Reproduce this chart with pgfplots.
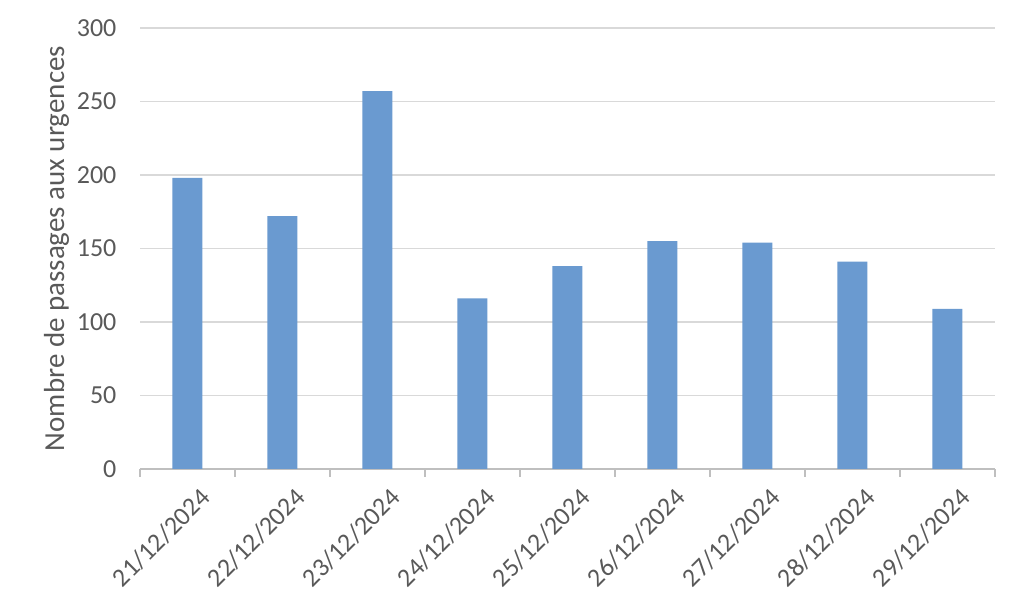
\documentclass[border=0pt]{standalone}
\usepackage{fontspec}
\setmainfont{Carlito}
\usepackage{pgfplots}
\pgfplotsset{compat=1.18}
\definecolor{barblue}{HTML}{6A9AD0}
\definecolor{txtgray}{HTML}{595959}
\definecolor{gridgray}{HTML}{D9D9D9}
\definecolor{axgray}{HTML}{BFBFBF}
\begin{document}
\begin{tikzpicture}
\path[use as bounding box] (0,0) rectangle (512pt,304.5pt);
\begin{axis}[
  at={(70pt,70pt)}, anchor=south west,
  scale only axis, width=427.5pt, height=220.5pt,
  xmin=-0.5, xmax=8.5, ymin=0, ymax=300,
  ytick={0,50,...,300},
  xtick={0,...,8},
  xticklabels={21/12/2024,22/12/2024,23/12/2024,24/12/2024,25/12/2024,26/12/2024,27/12/2024,28/12/2024,29/12/2024},
  minor xtick={-0.5,0.5,...,8.5},
  major x tick style={draw=none},
  minor x tick style={draw=axgray, line width=0.6pt},
  minor tick length=4pt,
  tick align=outside,
  axis x line*=bottom, axis y line*=left,
  y axis line style={draw=none},
  ytick style={draw=none},
  x axis line style={draw=axgray, line width=0.6pt, -},
  ymajorgrids, grid style={gridgray, line width=0.6pt},
  /pgf/number format/assume math mode=true,
  ticklabel style={font=\fontsize{13}{15}\selectfont, text=txtgray},
  x tick label style={rotate=45, anchor=north east, inner sep=1pt, yshift=-6pt, xshift=2pt},
  y tick label style={xshift=-4pt},
  ylabel={Nombre de passages aux urgences},
  ylabel style={font=\fontsize{14.5}{16}\selectfont, text=txtgray},
  ylabel shift=-3pt,
]
\addplot[ybar, bar width=15pt, fill=barblue, draw=none] coordinates {
(0,198) (1,172) (2,257) (3,116) (4,138) (5,155) (6,154) (7,141) (8,109)};
\end{axis}
\end{tikzpicture}
\end{document}
